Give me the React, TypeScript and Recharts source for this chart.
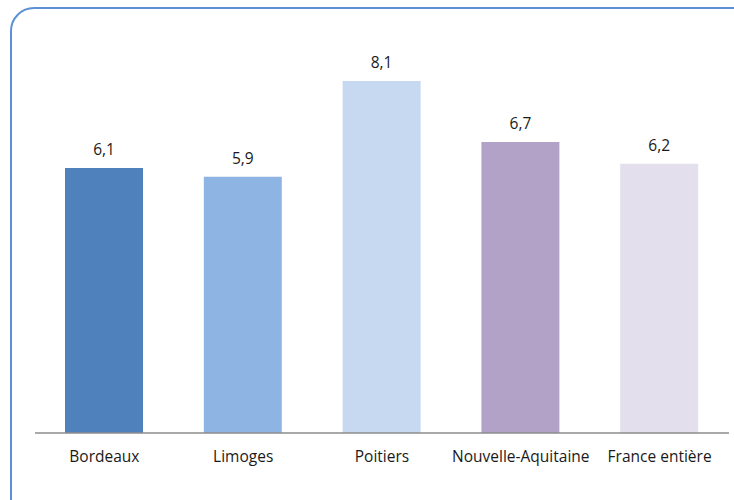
import React from "react";
import { BarChart, Bar, XAxis, YAxis, Cell, LabelList } from "recharts";

const categories = ["Bordeaux", "Limoges", "Poitiers", "Nouvelle-Aquitaine", "France entière"];
const values = [6.1, 5.9, 8.1, 6.7, 6.2];
const colors = ["#4F81BD", "#8EB4E3", "#C6D9F0", "#B3A2C7", "#E4DFEC"];

const data = categories.map((name, i) => ({ name, value: values[i] }));

const fmt = (v: any) => Number(v).toFixed(1).replace(".", ",");

export default function App() {
  return (
    <div style={{ position: "absolute", left: 0, top: 0, width: 734, height: 500, overflow: "hidden", background: "#fff" }}>
      <div
        style={{
          position: "absolute",
          left: 10,
          top: 7,
          width: 760,
          height: 540,
          border: "2px solid #5B8FD6",
          borderRadius: 24,
          boxSizing: "border-box",
        }}
      />
      <div style={{ position: "absolute", left: 0, top: 0 }}>
        <BarChart
          width={734}
          height={500}
          data={data}
          margin={{ top: 42, right: 5, bottom: 37, left: 35 }}
          style={{ fontFamily: "'Open Sans', 'Noto Sans', sans-serif" }}
        >
          <XAxis
            dataKey="name"
            axisLine={{ stroke: "#8C8C8C", strokeWidth: 1.5 }}
            tickLine={false}
            tickSize={0}
            tickMargin={18}
            tick={{ fill: "#1a1a1a", fontSize: 15.5 }}
            interval={0}
          />
          <YAxis hide domain={[0, 9]} />
          <Bar dataKey="value" barSize={78} isAnimationActive={false}>
            {data.map((d, i) => (
              <Cell key={d.name} fill={colors[i]} />
            ))}
            <LabelList
              dataKey="value"
              position="top"
              offset={13}
              formatter={fmt}
              style={{ fill: "#1a1a1a", fontSize: 15.5 }}
            />
          </Bar>
        </BarChart>
      </div>
    </div>
  );
}
